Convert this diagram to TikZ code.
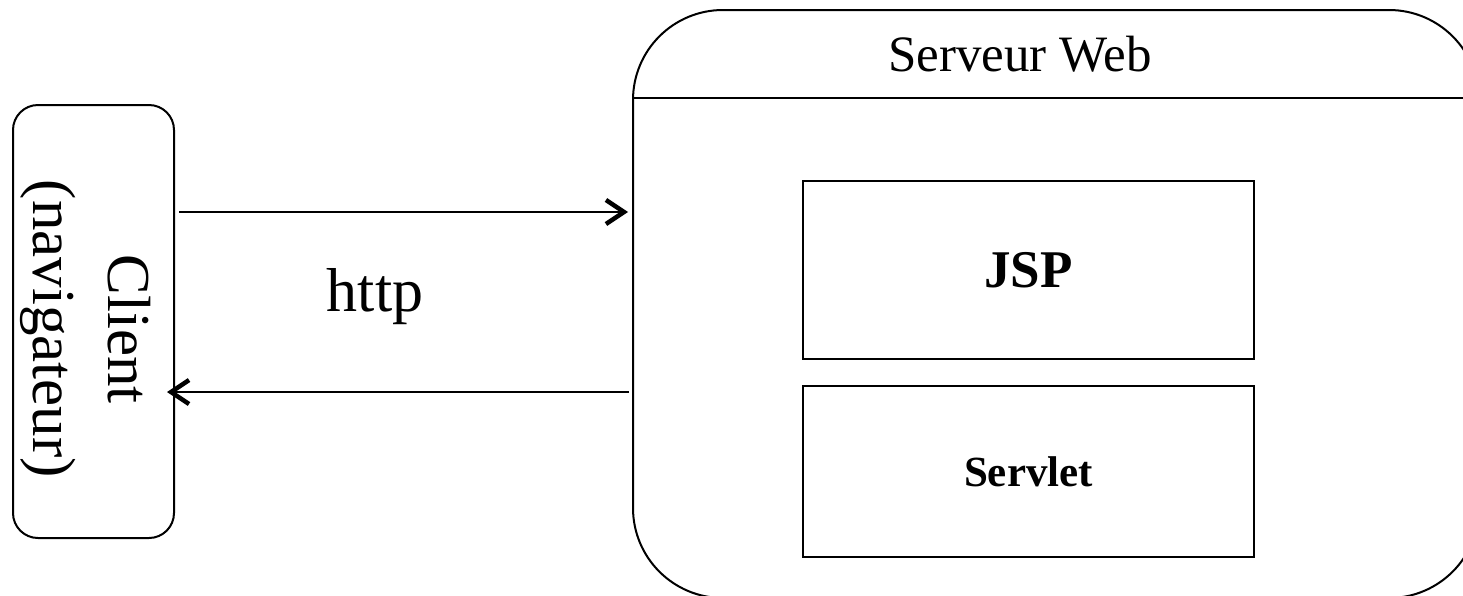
\documentclass[tikz,border=0pt]{standalone}
\usepackage{fontspec}
\setmainfont{Liberation Serif}
\usetikzlibrary{arrows.meta}
\tikzset{
  box/.style={draw, line width=2pt, rectangle, inner sep=0pt},
  conn/.style={line width=2pt, -{Straight Barb[length=18pt,width=24pt,line width=4.5pt]}},
}
\begin{document}
\begin{tikzpicture}[x=1pt,y=-1pt]
\useasboundingbox (0,0) rectangle (1463,595);
\clip (0,0) rectangle (1463,595);
% client
\node[box, rounded corners=25pt, minimum width=161pt, minimum height=433pt] (client) at (93.5,321.5) {};
\node[rotate=-90, align=center, font=\fontsize{61}{75}\selectfont] (clienttext) at (86,329) {Client\\(navigateur)};
% server
\node[box, rounded corners=90pt, minimum width=846pt, minimum height=588pt] (server) at (1056,304) {};
\draw[line width=2pt] (server.west |- 0,98) coordinate (hl) -- (server.east |- 0,98) coordinate (hr);
\node[font=\fontsize{51}{61}\selectfont] (title) at (1020,54) {Serveur Web};
\node[box, minimum width=451pt, minimum height=178pt, font=\fontsize{53}{64}\selectfont\bfseries] (jsp) at (1028.5,270) {JSP};
\node[box, minimum width=451pt, minimum height=171pt, font=\fontsize{43}{52}\selectfont\bfseries] (servlet) at (1028.5,471.5) {Servlet};
% arrows
\draw[conn] ([xshift=4pt]client.east |- 0,212) -- ([xshift=-4pt]server.west |- 0,212);
\draw[conn] ([xshift=-3pt]server.west |- 0,392) -- ([xshift=-8pt]client.east |- 0,392);
\node[font=\fontsize{62}{74}\selectfont] (http) at (375,297) {http};
\end{tikzpicture}
\end{document}
